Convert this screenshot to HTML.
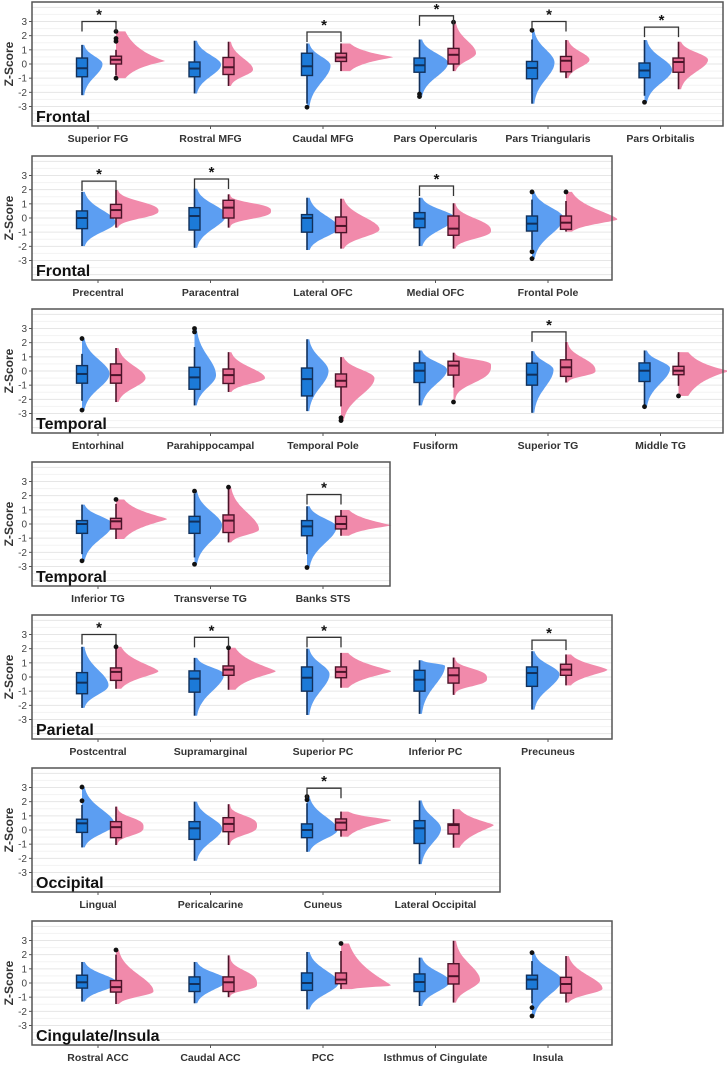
<!DOCTYPE html>
<html><head><meta charset="utf-8"><style>
html,body{margin:0;padding:0;background:#fff;}
svg{display:block;font-family:"Liberation Sans",Arial,sans-serif;}
</style></head><body>
<svg id="chart" width="727" height="1067" viewBox="0 0 727 1067" xmlns="http://www.w3.org/2000/svg"></svg>
<script>
const regionNames=["Frontal","Frontal","Temporal","Temporal","Parietal","Occipital","Cingulate/Insula"];
const panelSizes=[6,5,6,3,5,4,5];
const yTicks=[3,2,1,0,-1,-2,-3];
const categories=["Superior FG","Rostral MFG","Caudal MFG","Pars Opercularis","Pars Triangularis","Pars Orbitalis",
"Precentral","Paracentral","Lateral OFC","Medial OFC","Frontal Pole",
"Entorhinal","Parahippocampal","Temporal Pole","Fusiform","Superior TG","Middle TG",
"Inferior TG","Transverse TG","Banks STS",
"Postcentral","Supramarginal","Superior PC","Inferior PC","Precuneus",
"Lingual","Pericalcarine","Cuneus","Lateral Occipital",
"Rostral ACC","Caudal ACC","PCC","Isthmus of Cingulate","Insula"];
// blue group
const blueLo=[-2.2,-2.08,-2.8,-2.0,-2.8,-2.24, -1.98,-2.1,-2.26,-1.98,-2.2, -2.1,-2.43,-2.83,-2.43,-2.95,-2.4, -2.13,-2.36,-2.13, -2.18,-2.73,-2.68,-2.6,-2.3, -1.23,-2.17,-1.54,-2.41, -1.31,-1.43,-1.86,-1.62,-1.43];
const blueQ1=[-0.9,-0.9,-0.81,-0.58,-1.04,-0.97, -0.75,-0.85,-1.0,-0.68,-0.92, -0.86,-1.29,-1.76,-0.81,-1.0,-0.74, -0.66,-0.66,-0.83, -1.18,-1.07,-1.0,-1.0,-0.66, -0.17,-0.66,-0.54,-0.95, -0.36,-0.6,-0.52,-0.6,-0.43];
const blueMed=[-0.3,-0.32,-0.16,-0.09,-0.28,-0.46, 0,0.14,0,-0.05,-0.4, -0.21,-0.45,-0.57,0.02,-0.26,0.02, 0,0.17,-0.17, -0.4,-0.12,-0.05,-0.19,0.28, 0.47,0.12,0,0.12, 0.05,-0.07,0,0.07,0.24];
const blueQ3=[0.42,0.14,0.76,0.42,0.18,0.07, 0.5,0.73,0.24,0.38,0.14, 0.38,0.26,0.21,0.57,0.55,0.57, 0.24,0.54,0.24, 0.31,0.43,0.71,0.47,0.71, 0.76,0.59,0.43,0.66, 0.55,0.43,0.71,0.64,0.55];
const blueHi=[1.35,1.64,1.45,1.73,1.73,1.69, 1.84,2.07,1.43,1.43,1.3, 1.21,1.69,2.24,1.45,1.4,1.45, 1.37,2.13,1.25, 2.13,1.35,2.0,1.18,1.82, 1.77,2.0,1.89,2.08, 1.48,1.48,2.19,1.79,1.55];
const bluePeak=[0,-0.05,-0.1,0.07,0.1,-0.4, -0.3,0.2,-0.7,0,0, -0.2,-0.3,0,0.1,0.1,0.2, 0,-0.1,-0.2, -0.6,0.2,0.2,0.8,0.2, 0.4,0.1,0,0.1, 0,0.2,0,0.1,0.2];
const blueWidth=[19,25,22,27,21,26, 32,30,30,34,30, 26,20,20,26,20,24, 29,26,28, 25,28,21,24,26, 31,26,29,20, 34,31,30,29,28];
const blueOut=[[],[],[-3.05],[-2.12,-2.3],[2.38],[-2.7], [],[],[],[],[1.84,-2.38,-2.87], [2.29,-2.76],[3.0,2.76],[],[],[],[-2.52], [-2.6],[2.32,-2.84],[-3.07], [],[],[],[],[], [2.06,3.03],[],[2.36,2.13],[], [],[],[],[],[2.14,-1.74,-2.33]];
// pink group
const pinkLo=[-0.8,-1.55,-0.5,-0.5,-1.0,-1.78, -0.68,-0.68,-2.16,-2.16,-0.96, -2.19,-1.48,-2.5,-1.17,-0.81,-1.05, -1.06,-1.3,-0.83, -0.83,-0.9,-0.76,-1.26,-0.59, -1.06,-1.06,-0.47,-1.25, -1.48,-1.0,-0.43,-1.38,-1.38];
const pinkQ1=[0,-0.74,0.18,0,-0.55,-0.58, 0,0,-1.03,-1.22,-0.8, -0.86,-0.88,-1.12,-0.29,-0.38,-0.26, -0.35,-0.6,-0.35, -0.24,0.12,-0.05,-0.43,0.12, -0.54,-0.12,0,-0.28, -0.64,-0.6,-0.05,-0.07,-0.71];
const pinkMed=[0.3,-0.23,0.46,0.65,0.23,0.14, 0.56,0.73,-0.56,-0.75,-0.33, -0.29,-0.29,-0.69,0.38,0.26,0.02, 0.19,0.24,0, 0.36,0.52,0.36,0.12,0.52, 0.2,0.43,0.52,0.35, -0.29,0.05,0.24,0.48,-0.07];
const pinkQ3=[0.55,0.46,0.76,1.1,0.53,0.42, 0.96,1.25,0.07,0.14,0.14, 0.5,0.14,-0.21,0.69,0.79,0.33, 0.4,0.64,0.54, 0.64,0.78,0.71,0.64,0.9, 0.59,0.87,0.78,0.43, 0.17,0.43,0.71,1.36,0.4];
const pinkHi=[1.0,1.57,1.45,2.95,1.69,1.57, 1.98,1.67,1.36,1.04,1.2, 1.62,1.33,0.98,1.29,2.05,1.33, 1.42,2.6,0.99, 2.0,1.9,1.7,1.37,1.59, 1.65,1.82,1.3,1.47, 2.0,1.95,2.26,2.98,1.9];
const pinkPeak=[0.2,-0.4,0.48,0.76,0.3,0.3, 0.5,0.5,-0.8,-0.9,-0.1, -0.5,-0.5,-0.5,0.4,0.0,0.0, 0.35,-0.4,-0.1, 0.4,0.4,0.4,-0.1,0.5, 0.2,0.3,0.7,0.35, -0.6,-0.1,-0.2,0.2,-0.4];
const pinkWidth=[48,23,51,21,22,28, 41,41,37,36,50, 28,35,32,36,28,50, 50,29,49, 41,46,49,32,40, 26,27,49,39, 36,27,49,25,35];
const pinkOut=[[2.3,1.8,1.6,-1.0],[],[],[2.95],[],[], [],[],[],[],[1.84], [],[],[-3.3,-3.5],[-2.19],[],[-1.76], [1.73],[2.6],[], [2.13],[2.06],[],[],[], [],[],[],[], [2.33],[],[2.79],[],[]];
const sigZ=[3.0,null,2.26,3.4,3.0,2.6, 2.6,2.75,null,2.26,null, null,null,null,null,2.76,null, null,null,2.08, 3.0,2.8,2.8,null,2.6, null,null,2.95,null, null,null,null,null,null];
const spiky=[1,2,1.1,2,2,2, 2.5,3,2,2.5,1.5, 2,2,2,3,2.5,1, 1.2,2,1.2, 1.5,1.3,1.3,3,1.5, 3,3,1.3,1.3, 2,3,1.2,2,2];

const panelTops=[2,156,309,462,615,768,921];
const panelRights=[723,612,723,390,612,500,612];
const svg=document.getElementById('chart');
const NS="http://www.w3.org/2000/svg";
function mk(tag,attrs,parent){const e=document.createElementNS(NS,tag);for(const k in attrs)e.setAttribute(k,attrs[k]);(parent||svg).appendChild(e);return e;}
const UNIT=14.17, LEFT=32, PH=124;
function xBlue(i){return 82+i*112.5;}
function yOf(top,z){return top+62-z*UNIT;}

function violin(g,x,top,lo,hi,peak,W,p,fill){
  let d="M"+x+","+yOf(top,hi);
  const sUp=Math.max((hi-peak)/1.8,0.15), sDn=Math.max((peak-lo)/1.8,0.15);
  const n=60;
  for(let k=0;k<=n;k++){
    const z=hi-(hi-lo)*k/n;
    const dd=z>peak?(z-peak)/sUp:(peak-z)/sDn;
    const w=W*Math.exp(-Math.pow(Math.abs(dd),p))+1.5;
    d+=" L"+(x+w).toFixed(1)+","+yOf(top,z).toFixed(1);
  }
  d+=" L"+x+","+yOf(top,lo)+" Z";
  const path=mk('path',{d:d,fill:fill},g);
  return path;
}
function box(g,x,top,lo,q1,med,q3,hi,outs,fill,stroke,nm){
  const wl=mk('line',{x1:x,x2:x,y1:yOf(top,hi),y2:yOf(top,lo),stroke:stroke,'stroke-width':1.6},g);
  
  
  const r=mk('rect',{x:x-5.5,y:yOf(top,q3),width:11,height:Math.max(yOf(top,q1)-yOf(top,q3),1),fill:fill,stroke:stroke,'stroke-width':1.4},g);
  
  
  const m=mk('line',{x1:x-5.5,x2:x+5.5,y1:yOf(top,med),y2:yOf(top,med),stroke:stroke,'stroke-width':2},g);
  
  
  outs.forEach(o=>{
    const c=mk('circle',{cx:x,cy:yOf(top,o),r:2.4,fill:'#111'},g);
    
    
  });
}

let idx=0;
panelSizes.forEach((n,p)=>{
  const top=panelTops[p], right=panelRights[p];
  const g=mk('g',{});
  
  
  // grid
  for(let z=-4;z<=4;z+=0.5){
    const y=yOf(top,z); if(y<top+2||y>top+PH-2)continue;
    const gl=mk('line',{x1:LEFT,x2:right,y1:y,y2:y,stroke:Number.isInteger(z)?'#e6e6e6':'#f3f3f3','stroke-width':1},g);
    
    
  }
  // y ticks
  yTicks.forEach(t=>{
    const y=yOf(top,t);
    mk('line',{x1:LEFT-3,x2:LEFT,y1:y,y2:y,stroke:'#555','stroke-width':1},g);
    const tx=mk('text',{x:LEFT-5,y:y+3.5,'text-anchor':'end','font-size':10,fill:'#444'},g);
    tx.textContent=t;
    
    
  });
  const yt=mk('text',{x:0,y:0,transform:'translate(13,'+(top+62)+') rotate(-90)','text-anchor':'middle','font-size':12,'font-weight':'bold',fill:'#333'},g);
  yt.textContent='Z-Score';
  
  
  for(let i=0;i<n;i++,idx++){
    const xb=xBlue(i), xp=xb+34, c=idx;
    const cg=mk('g',{},g);
    
    
    const bl=Math.min(blueLo[c],...blueOut[c]), bh=Math.max(blueHi[c],...blueOut[c]);
    const pl=Math.min(pinkLo[c],...pinkOut[c]), ph=Math.max(pinkHi[c],...pinkOut[c]);
    const v1=violin(cg,xb,top,bl,bh,bluePeak[c],blueWidth[c],2,'#5c9ef2');
    
    
    const v2=violin(cg,xp,top,pl,ph,pinkPeak[c],pinkWidth[c],spiky[c],'#f18aab');
    
    
    box(cg,xb,top,blueLo[c],blueQ1[c],blueMed[c],blueQ3[c],blueHi[c],blueOut[c],'#1c7ad8','#12305a','blue');
    box(cg,xp,top,pinkLo[c],pinkQ1[c],pinkMed[c],pinkQ3[c],pinkHi[c],pinkOut[c],'#e4688f','#4a1328','pink');
    if(sigZ[c]!==null){
      const y=yOf(top,sigZ[c]);
      const br=mk('path',{d:'M'+xb+','+(y+10)+' L'+xb+','+y+' L'+xp+','+y+' L'+xp+','+(y+10),fill:'none',stroke:'#333','stroke-width':1.3},cg);
      
      
      const st=mk('text',{x:(xb+xp)/2,y:y-2,'text-anchor':'middle','font-size':15,'font-weight':'bold',fill:'#111'},cg);
      st.textContent='*';
      
      
    }
    const cx=xb+16;
    mk('line',{x1:cx,x2:cx,y1:top+PH,y2:top+PH+3,stroke:'#555','stroke-width':1},g);
    const lb=mk('text',{x:cx,y:top+140,'text-anchor':'middle','font-size':10.5,'font-weight':'bold',fill:'#333'},g);
    lb.textContent=categories[c];
    
    
  }
  const fr=mk('rect',{x:LEFT,y:top,width:right-LEFT,height:PH,fill:'none',stroke:'#555','stroke-width':1.5},g);
  
  
  const rl=mk('text',{x:LEFT+4,y:top+PH-4,'font-size':16,'font-weight':'bold',fill:'#111'},g);
  rl.textContent=regionNames[p];
  
  
});
</script>
</body></html>
